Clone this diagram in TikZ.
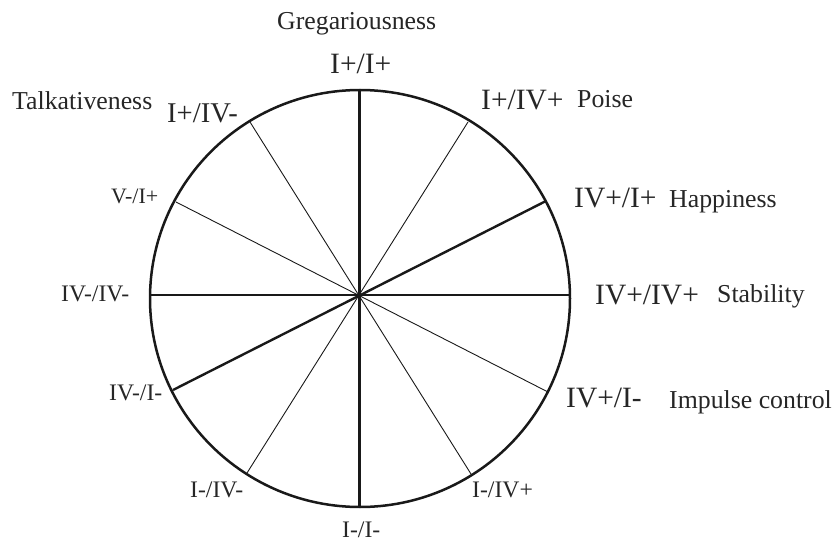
\documentclass[tikz,border=0pt]{standalone}
\usepackage{fontspec}
\setmainfont{Liberation Serif}
\begin{document}
\begin{tikzpicture}[x=1pt,y=-1pt,
  thickline/.style={line width=2.4pt, color=black!90},
  thinline/.style={line width=0.9pt, color=black!90},
  rim/.style={line width=2.5pt, color=black!90},
  lab/.style={inner sep=0pt, anchor=base west, text=black!85},
  big/.style={lab, font=\fontsize{29.5}{32}\selectfont},
  mid/.style={lab, font=\fontsize{25.8}{30}\selectfont},
  small/.style={lab, font=\fontsize{23.7}{28}\selectfont}]
\useasboundingbox (0,0) rectangle (839,543);
% endpoints
\coordinate (T) at (359.3,90);
\coordinate (B) at (359.3,507.5);
\coordinate (L) at (150,295);
\coordinate (R) at (570,295);
\coordinate (A30) at (546,201);
\coordinate (A210) at (173,390);
\coordinate (A60) at (468,122);
\coordinate (A240) at (247,473);
\coordinate (A120) at (250,122);
\coordinate (A300) at (471,474);
\coordinate (A150) at (176,202);
\coordinate (A330) at (548,392);
\coordinate (C) at (360,298.5);
% thin lines
\draw[thinline] (A60) -- (A240);
\draw[thinline] (A120) -- (A300);
\draw[thinline] (A150) -- (A330);
% thick lines
\draw[thickline] (T) -- (B);
\draw[thickline] (L) -- (R);
\draw[thickline] (A30) -- (A210);
% rim
\draw[rim] (C) ellipse [x radius=210pt, y radius=208.5pt];
% labels
\node[mid]   (greg) at (277,30) {Gregariousness};
\node[big]   (ii)   at (330,74) {I+/I+};
\node[mid]   (talk) at (12,110) {Talkativeness};
\node[big,font=\fontsize{28.6}{32}\selectfont] (iiv) at (167,122) {I+/IV-};
\node[small,font=\fontsize{22}{26}\selectfont] (vi) at (111,203) {V-/I+};
\node[big]   (iivp) at (481,110) {I+/IV+};
\node[mid]   (poise) at (577,107) {Poise};
\node[big]   (ivi)  at (574,207) {IV+/I+};
\node[mid]   (happy) at (669,207) {Happiness};
\node[big]   (iviv) at (595,304) {IV+/IV+};
\node[mid]   (stab) at (717,302) {Stability};
\node[big]   (ivim) at (566,407) {IV+/I-};
\node[mid]   (imp)  at (669,408) {Impulse control};
\node[small] (imivp) at (472,497) {I-/IV+};
\node[small] (ivmivm) at (61,301) {IV-/IV-};
\node[small] (ivmim) at (109,400) {IV-/I-};
\node[small] (imivm) at (190,497) {I-/IV-};
\node[small] (imim) at (342,537) {I-/I-};
\end{tikzpicture}
\end{document}
